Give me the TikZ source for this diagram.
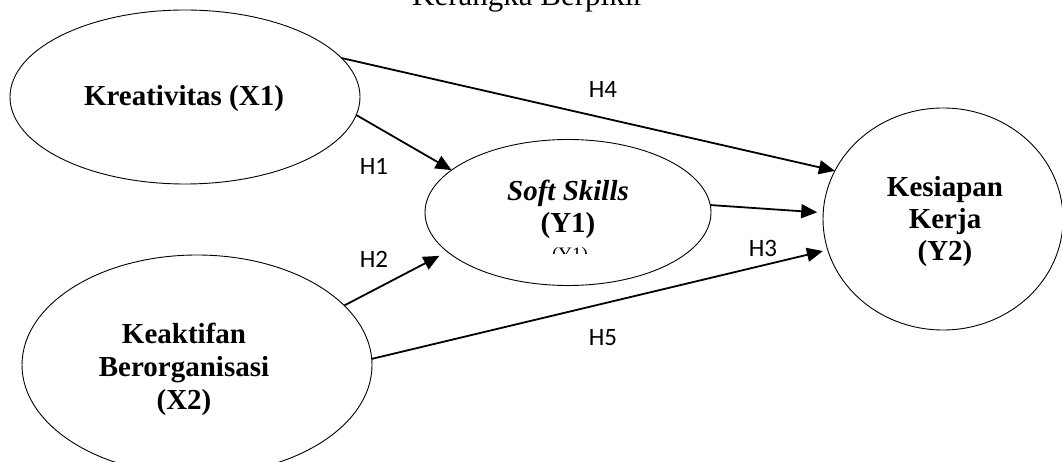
\documentclass[tikz,border=0pt]{standalone}
\usepackage{fontspec}
\setmainfont{Liberation Serif}
\newfontfamily\hfont{Carlito}
\usetikzlibrary{shapes.geometric,arrows.meta}
\begin{document}
\begin{tikzpicture}[x=1pt,y=-1pt,
  oval/.style={draw, ellipse, line width=0.9pt, inner sep=0pt, outer sep=0pt},
  lbl/.style={font=\fontsize{29}{32}\selectfont\bfseries, align=center, inner sep=0pt},
  hyp/.style={font=\hfont\fontsize{25}{28}\selectfont, anchor=base, inner sep=0pt},
  arr/.style={line width=1.8pt, -{Triangle[length=16pt,width=14pt]}}]
\useasboundingbox (0,0) rectangle (1062,462);
\clip (0,0) rectangle (1062,462);
\fill[white] (0,0) rectangle (1062,462);
% title (cut at the top edge)
\node[font=\fontsize{31}{34}\selectfont, anchor=base, inner sep=0pt] (title) at (528,6) {Kerangka Berpikir};
% ellipses
\node[oval, minimum width=350pt, minimum height=174pt] (kre) at (185,97) {};
\node[oval, minimum width=286pt, minimum height=146pt] (soft) at (568,212.5) {};
\node[oval, minimum width=240pt, minimum height=222pt] (kes) at (943,219) {};
\node[oval, minimum width=350pt, minimum height=220pt] (kea) at (197,365) {};
% texts
\node[lbl, anchor=base] (kreT) at (184,106) {Kreativitas (X1)};
\node[lbl] (softT) at (568,209) {\textit{Soft Skills}\\(Y1)};
\node[lbl] (kesT) at (945,222) {Kesiapan\\Kerja\\(Y2)};
\node[lbl, font=\fontsize{29}{33}\selectfont\bfseries] (keaT) at (184,369) {Keaktifan\\Berorganisasi\\(X2)};
\begin{scope}
\clip (500,235) rectangle (640,254);
\node[font=\fontsize{19}{22}\selectfont, anchor=base, inner sep=0pt] (ghost) at (570,261) {(Y1)};
\end{scope}
% arrows
\draw[arr] (kre.-6) -- (soft.160);
\draw[arr, shorten >=9pt] (kea.22) -- (soft.198);
\draw[arr] (kre.14) -- (kes.156.5);
\draw[arr, shorten >=6pt] (soft.3.4) -- (kes.177.7);
\draw[arr, shorten >=5pt] (kea.2) -- (kes.195.8);
% hypothesis labels
\node[hyp] (h1) at (374,175) {H1};
\node[hyp] (h2) at (374,268) {H2};
\node[hyp] (h3) at (763,257) {H3};
\node[hyp] (h4) at (603,98) {H4};
\node[hyp] (h5) at (603,345) {H5};
\end{tikzpicture}
\end{document}
